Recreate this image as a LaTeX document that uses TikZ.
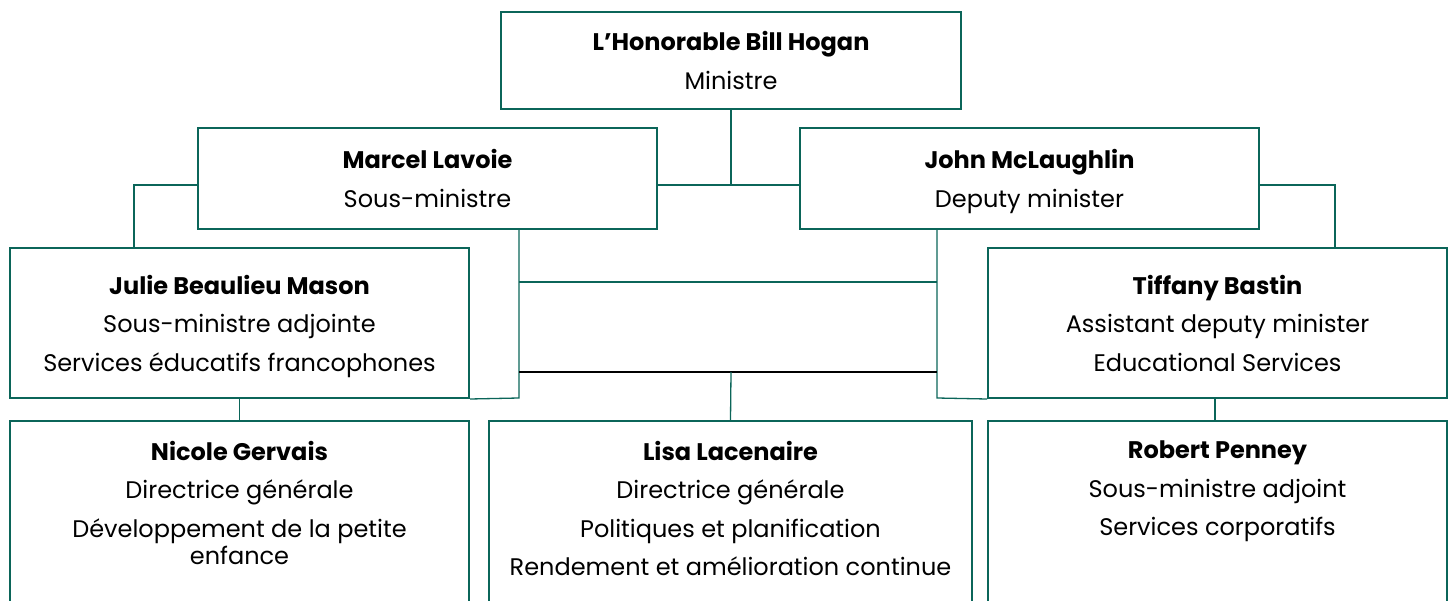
\documentclass[tikz,border=0pt]{standalone}
\usepackage{fontspec}
\setmainfont{Poppins}
\usepackage{amsmath}
\usepackage{xcolor}
\usepackage{tikz}
\usetikzlibrary{positioning,calc}
\definecolor{orggreen}{HTML}{0B6559}
\tikzset{
  orgbox/.style={draw=orggreen, line width=2pt, fill=white, align=center, inner sep=0pt,
    minimum width=459pt, font=\fontsize{24}{38.5}\selectfont},
  orgtext/.style={align=center, inner sep=0pt, font=\fontsize{24}{38.5}\selectfont},
  link/.style={draw=orggreen, line width=1.3pt},
}
\newcommand\who[1]{\textbf{#1}}
\newcommand\lastline[1]{\smash[b]{#1}}

\begin{document}
\begin{tikzpicture}[x=1pt, y=-1pt]
  \useasboundingbox (0,0) rectangle (1450,601);
  \clip (0,0) rectangle (1450,601);
  \node[orgbox, minimum width=460pt, minimum height=97pt] (minister) at (731,60.5)
    {\who{L’Honorable Bill Hogan}\\\lastline{Ministre}};
  \node[orgbox, minimum height=101pt] (marcel) at (427.5,178.5)
    {\who{Marcel Lavoie}\\\lastline{Sous-ministre}};
  \node[orgbox, minimum height=101pt] (john) at (1029.5,178.5)
    {\who{John McLaughlin}\\\lastline{Deputy minister}};
  \node[orgbox, minimum height=150pt] (julie) at (239.5,323)
    {\who{Julie Beaulieu Mason}\\Sous-ministre adjointe\\\lastline{Services éducatifs francophones}};
  \node[orgbox, minimum height=150pt] (tiffany) at (1217.5,323)
    {\who{Tiffany Bastin}\\Assistant deputy minister\\\lastline{Educational Services}};
  \node[orgbox, minimum height=220pt] (nicole) at (239.5,531) {};
  \node[orgbox, minimum width=483pt, minimum height=220pt] (lisa) at (730.5,531) {};
  \node[orgbox, minimum height=220pt] (robert) at (1217.5,531) {};
  \node[orgtext, anchor=north] (nicoletext) at ($(nicole.north)+(0,21)$)
    {\who{Nicole Gervais}\\Directrice générale\\Développement de la petite\\[-11.5pt]enfance};
  \node[orgtext, anchor=north] (lisatext) at ($(lisa.north)+(0,21)$)
    {\who{Lisa Lacenaire}\\Directrice générale\\Politiques et planification\\Rendement et amélioration continue};
  \node[orgtext, anchor=north] (roberttext) at ($(robert.north)+(0,21)$)
    {\who{Robert Penney}\\Sous-ministre adjoint\\Services corporatifs};

  \coordinate (topjoin) at (731,185);
  \coordinate (julieup) at (134,185);
  \coordinate (tiffup) at (1335,185);
  \coordinate (marceldown) at (519,398);
  \coordinate (johndown) at (937,398);
  \coordinate (midjoin) at (731,372);

  \draw[link] (minister.south) -- (topjoin);
  \draw[link] (marcel.east |- topjoin) -- (john.west |- topjoin);
  \draw[link] (marcel.west |- julieup) -| (julie.north -| julieup);
  \draw[link] (john.east |- tiffup) -| (tiffany.north -| tiffup);
  \draw[link] (marcel.south -| marceldown) -- (marceldown) -- (julie.south east);
  \draw[link] (john.south -| johndown) -- (johndown) -- (tiffany.south west);
  \draw[link] (marceldown |- 0,282) -- (johndown |- 0,282);
  \draw[line width=2pt] (marceldown |- midjoin) -- (johndown |- midjoin);
  \draw[link] (midjoin) -- (lisa.north);
  \draw[link] (julie.south) -- (nicole.north);
  \draw[link] (tiffany.south -| 1215,0) -- (robert.north -| 1215,0);
\end{tikzpicture}
\end{document}
